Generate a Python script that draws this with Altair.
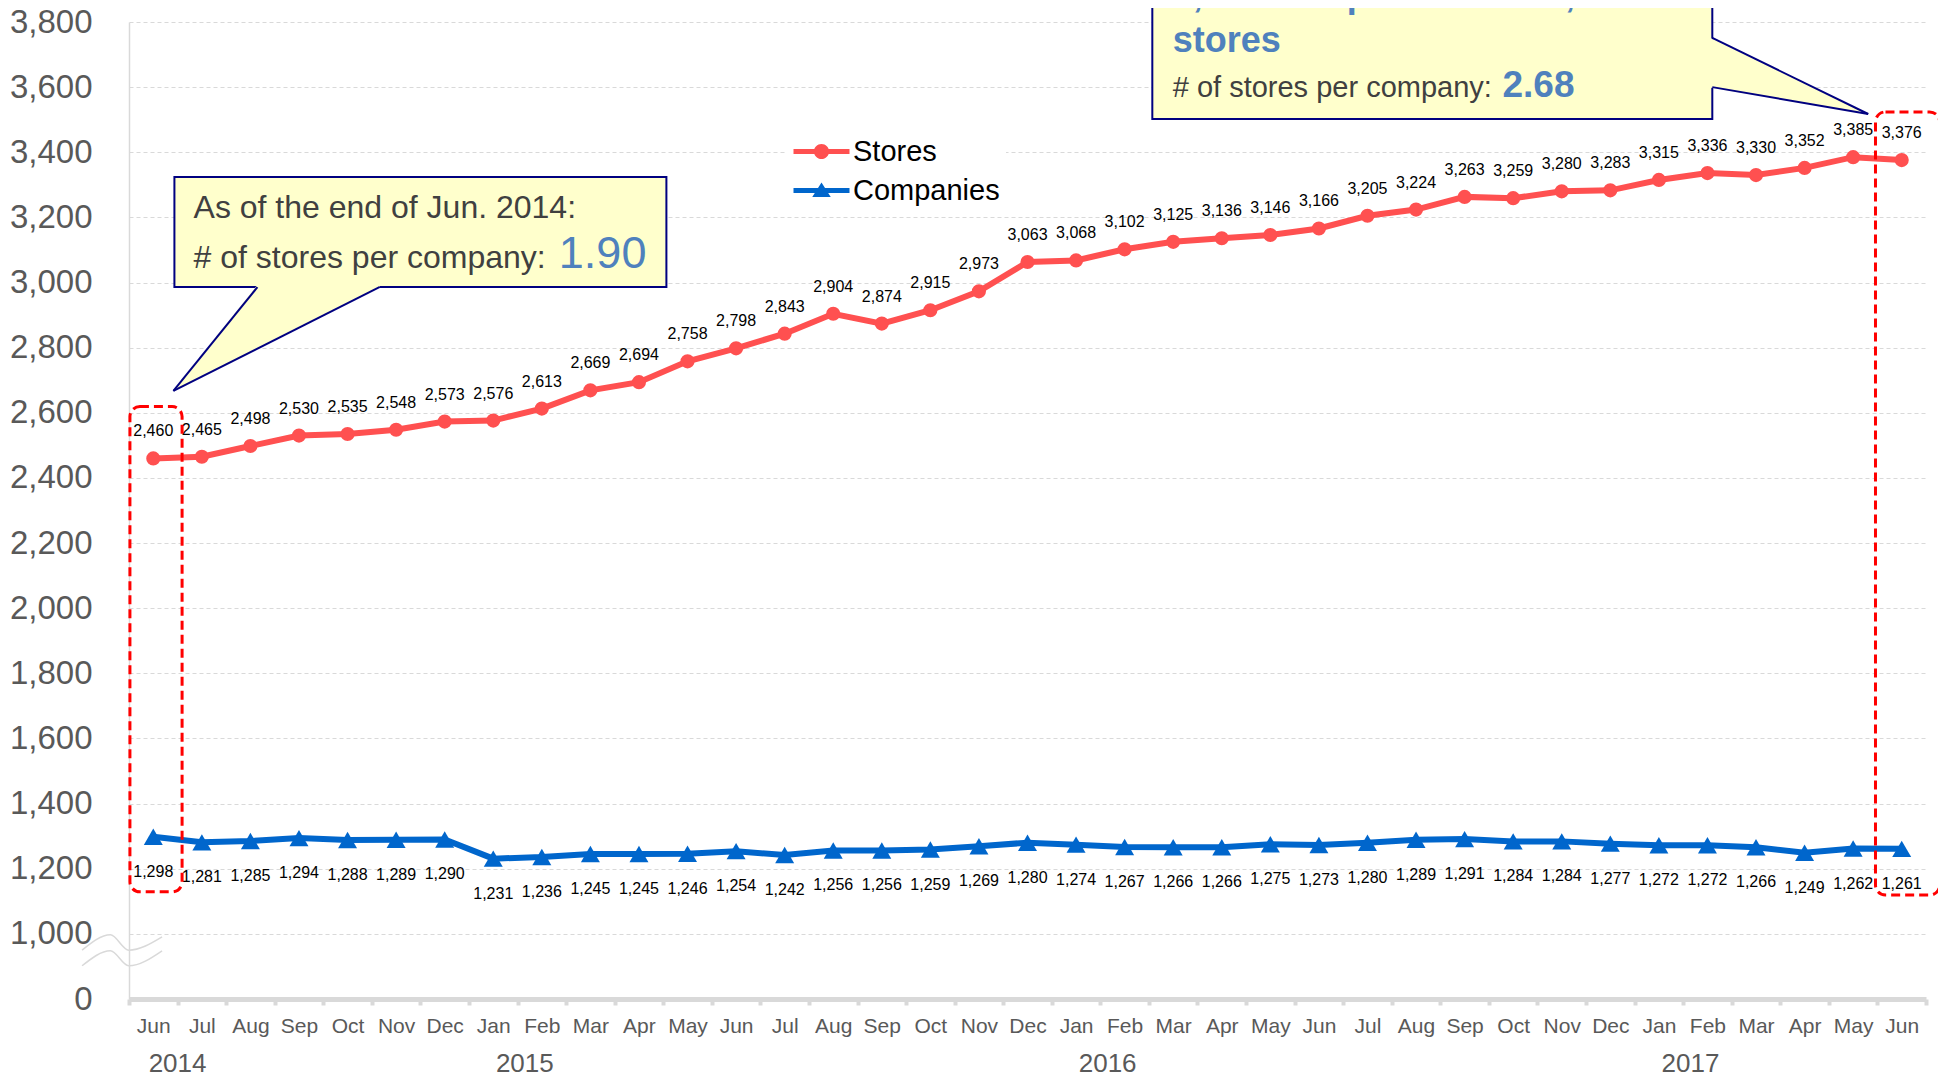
import altair as alt
import pandas as pd

# ---------------- data ----------------
months = ["Jun", "Jul", "Aug", "Sep", "Oct", "Nov", "Dec",
          "Jan", "Feb", "Mar", "Apr", "May", "Jun", "Jul", "Aug", "Sep", "Oct", "Nov", "Dec",
          "Jan", "Feb", "Mar", "Apr", "May", "Jun", "Jul", "Aug", "Sep", "Oct", "Nov", "Dec",
          "Jan", "Feb", "Mar", "Apr", "May", "Jun"]
stores = [2460, 2465, 2498, 2530, 2535, 2548, 2573,
          2576, 2613, 2669, 2694, 2758, 2798, 2843, 2904, 2874, 2915, 2973, 3063,
          3068, 3102, 3125, 3136, 3146, 3166, 3205, 3224, 3263, 3259, 3280, 3283,
          3315, 3336, 3330, 3352, 3385, 3376]
companies = [1298, 1281, 1285, 1294, 1288, 1289, 1290,
             1231, 1236, 1245, 1245, 1246, 1254, 1242, 1256, 1256, 1259, 1269, 1280,
             1274, 1267, 1266, 1266, 1275, 1273, 1280, 1289, 1291, 1284, 1284, 1277,
             1272, 1272, 1266, 1249, 1262, 1261]
series_names = ["Stores", "Companies"]
years = ["2014", "2015", "2016", "2017"]
year_at = [0.5, 7.65, 19.65, 31.65]
y_ticks = list(range(800, 3801, 200))   # 800 is shown as "0" (broken axis)

# ---------------- layout / style ----------------
W, H = 1797, 977
BAND = W / len(months)
FONT = "Liberation Sans"
RED, BLUE = "#FF5050", "#0066CC"
GRID = "#D9D9D9"
GRAYTXT = "#595959"
ANN_BLUE = "#4F81BD"
ANN_GRAY = "#404040"
NAVY = "#000080"
YELLOW = "#FFFFCC"

n = len(months)
series_df = pd.DataFrame({
    "i": list(range(n)) * 2,
    "value": stores + companies,
    "series": ["Stores"] * n + ["Companies"] * n,
})

xs = alt.Scale(domain=[-0.5, n - 0.5], nice=False, zero=False)
ys = alt.Scale(domain=[800, 3800], nice=False, zero=False)
color_scale = alt.Scale(domain=series_names, range=[RED, BLUE])

month_js = "[" + ",".join(f"'{m}'" for m in months) + "]"
x_axis = alt.Axis(
    values=[k - 0.5 for k in range(n + 1)],
    labelExpr=f"{month_js}[datum.value + 0.5] || ''",
    labelOffset=BAND / 2, labelFlush=False, labelOverlap=False,
    labelFont=FONT, labelFontSize=21, labelColor=GRAYTXT,
    labelBaseline="alphabetic", labelPadding=27,
    tickColor=GRID, tickWidth=4, tickSize=6,
    domainColor=GRID, domainWidth=5, grid=False, title=None,
)
y_axis = alt.Axis(
    values=y_ticks,
    labelExpr="datum.value == 800 ? '0' : format(datum.value, ',')",
    labelFont=FONT, labelFontSize=33, labelColor=GRAYTXT, labelPadding=37,
    labelOverlap=False, ticks=False,
    domainColor=GRID, domainWidth=1.5,
    grid=True, gridColor=GRID, gridDash=[4, 3], gridWidth=1, title=None,
)


def ex(field):
    return alt.X(field, scale=xs, axis=x_axis)


def ey(field):
    return alt.Y(field, scale=ys, axis=y_axis)


# legend symbols: line segment + marker (unit = 14 px)
P_STORES = ("M-2,-0.18L2,-0.18L2,0.18L-2,0.18Z "
            "M0.54,0A0.54,0.54,0,1,1,-0.54,0A0.54,0.54,0,1,1,0.54,0Z")
P_COMP = ("M-2,-0.18L2,-0.18L2,0.18L-2,0.18Z "
          "M0,-0.58L0.66,0.46L-0.66,0.46Z")

legend = alt.Legend(
    orient="none", legendX=658, legendY=109, title=None,
    labelFont=FONT, labelFontSize=29, labelColor="black",
    symbolSize=784, symbolOffset=14, labelOffset=17,
    fillColor="white", padding=6, rowPadding=9,
    symbolStrokeWidth=0, symbolOpacity=1,
)

base = alt.Chart(series_df)
st = base.transform_filter("datum.series == 'Stores'")
co = base.transform_filter("datum.series == 'Companies'")

line_s = st.mark_line(strokeWidth=6, color=RED).encode(x=ex("i:Q"), y=ey("value:Q"))
line_c = co.mark_line(strokeWidth=6, color=BLUE).encode(x=ex("i:Q"), y=ey("value:Q"))
pts_s = st.mark_point(filled=True, opacity=1, shape="circle", size=200, color=RED).encode(
    x=ex("i:Q"), y=ey("value:Q"))
pts_c = co.mark_point(filled=True, opacity=1, shape="triangle-up", size=360, color=BLUE).encode(
    x=ex("i:Q"), y=ey("value:Q"))

legend_layer = base.transform_filter("datum.i < 0").mark_point(filled=True, opacity=1).encode(
    x=ex("i:Q"), y=ey("value:Q"),
    color=alt.Color("series:N", scale=color_scale, legend=legend),
    shape=alt.Shape("series:N", scale=alt.Scale(domain=series_names, range=[P_STORES, P_COMP]),
                    legend=legend),
)

store_labels = st.mark_text(
    font=FONT, fontSize=16, color="black", dy=-22, baseline="alphabetic"
).encode(x=ex("i:Q"), y=ey("value:Q"), text=alt.Text("value:Q", format=","))
comp_labels = co.mark_text(
    font=FONT, fontSize=16, color="black", dy=40, baseline="alphabetic"
).encode(x=ex("i:Q"), y=ey("value:Q"), text=alt.Text("value:Q", format=","))

year_df = pd.DataFrame({"i": year_at, "year": years})
year_labels = alt.Chart(year_df).mark_text(
    font=FONT, fontSize=26, color=GRAYTXT, baseline="alphabetic"
).encode(x=ex("i:Q"), y=alt.value(H + 73), text="year:N")

# ---------------- annotations (data coordinates) ----------------
break_df = pd.DataFrame({
    "k": ["a"] * 4 + ["b"] * 4,
    "x": [-1.466, -0.883, -0.506, 0.181] * 2,
    "y": [950, 997, 950, 991, 902, 948, 902, 948],
})
breaks = alt.Chart(break_df).mark_line(color=GRID, strokeWidth=1.5, interpolate="monotone").encode(
    x=ex("x:Q"), y=ey("y:Q"), detail="k:N",
)

dash_df = pd.DataFrame({"x": [-0.481, 35.46], "x2": [0.593, 36.78],
                        "y": [2619, 3524], "y2": [1129, 1119]})
dash_boxes = alt.Chart(dash_df).mark_rect(
    fill="transparent", stroke="#FF0000", strokeWidth=3, strokeDash=[9, 5], cornerRadius=10
).encode(x=ex("x:Q"), x2="x2:Q", y=ey("y:Q"), y2="y2:Q")

box_df = pd.DataFrame({"x": [0.435, 20.57], "x2": [10.565, 32.10],
                       "y": [3324, 3990], "y2": [2986, 3502]})
boxes = alt.Chart(box_df).mark_rect(fill=YELLOW, stroke=NAVY, strokeWidth=2).encode(
    x=ex("x:Q"), x2="x2:Q", y=ey("y:Q"), y2="y2:Q")

tail1_df = pd.DataFrame({"x": [0.414, 2.144, 4.656], "top": [2667, 2993, 2993],
                         "bot": [2667, 2797, 2986]})
tail2_df = pd.DataFrame({"x": [32.05, 35.31], "top": [3752, 3517.5], "bot": [3599, 3517.5]})
tail1 = alt.Chart(tail1_df).mark_area(color=YELLOW, opacity=1).encode(
    x=ex("x:Q"), y=ey("top:Q"), y2="bot:Q")
tail2 = alt.Chart(tail2_df).mark_area(color=YELLOW, opacity=1).encode(
    x=ex("x:Q"), y=ey("top:Q"), y2="bot:Q")
edge_df = pd.DataFrame({
    "x": [0.414, 0.414, 35.31, 35.31], "y": [2667, 2667, 3517.5, 3517.5],
    "x2": [2.144, 4.656, 32.10, 32.10], "y2": [2986, 2986, 3751, 3600],
})
edges = alt.Chart(edge_df).mark_rule(color=NAVY, strokeWidth=2).encode(
    x=ex("x:Q"), x2="x2:Q", y=ey("y:Q"), y2="y2:Q")


def ann(texts, xv, yv, size, color, bold=False):
    df = pd.DataFrame({"text": texts, "x": xv, "y": yv})
    return alt.Chart(df).mark_text(
        font=FONT, align="left", baseline="alphabetic", fontSize=size, color=color,
        fontWeight="bold" if bold else "normal",
    ).encode(x=ex("x:Q"), y=ey("y:Q"), text="text:N")


ann1 = ann(["As of the end of Jun. 2014:", "# of stores per company:"],
           [0.829, 0.829], [3198, 3045], 32, ANN_GRAY)
ann1v = ann(["1.90"], [8.35], [3045], 45, ANN_BLUE)
ann2 = ann(["# of stores per company:"], [20.99], [3570], 29, ANN_GRAY)
ann2t = ann(["1,261 companies and 3,376", "stores"], [20.99, 20.99], [3846, 3708], 36, ANN_BLUE, True)
ann2v = ann(["2.68"], [27.78], [3570], 37, ANN_BLUE, True)

chart = alt.layer(
    line_s, line_c, pts_s, pts_c, legend_layer, store_labels, comp_labels, year_labels, breaks,
    dash_boxes, boxes, tail1, tail2, edges, ann1, ann1v, ann2, ann2t, ann2v,
).properties(
    width=W, height=H,
    autosize=alt.AutoSizeParams(type="none"),
    padding={"left": 121, "top": 14, "right": 12, "bottom": 78},
    background="white",
).configure_view(stroke=None)

chart.save("out.html", embed_options={"renderer": "svg", "actions": False})
